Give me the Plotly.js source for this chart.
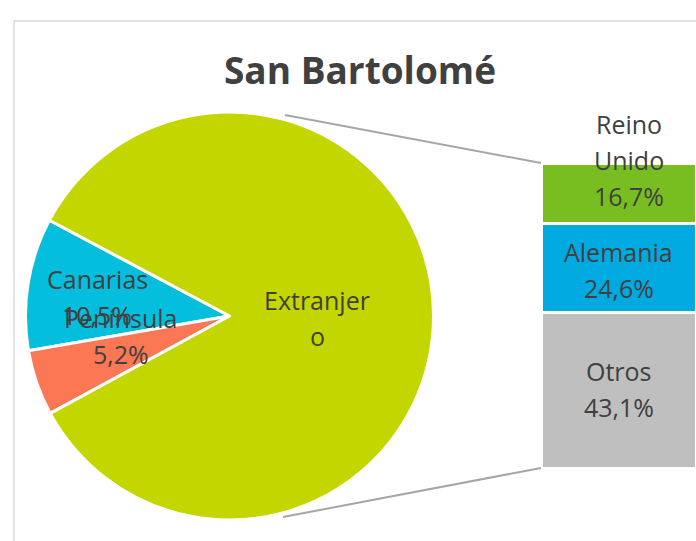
<!DOCTYPE html>
<html><head><meta charset="utf-8">
<script src="https://cdn.plot.ly/plotly-3.0.1.min.js"></script>
<style>html,body{margin:0;padding:0;background:#fff}#chart{width:696px;height:541px}</style>
</head><body><div id="chart"></div>
<script>
const titleText = "San Bartolomé";
const pieLabels = ["Canarias", "Península", "Extranjero"];
const pieValues = [10.5, 5.2, 84.3];
const pieColors = ["#04BEDE", "#FC7753", "#C4D600"];
const barLabels = ["Otros", "Alemania", "Reino Unido"];
const barValues = [43.1, 24.6, 16.7];
const barColors = ["#BFBFBF", "#00A9E0", "#78BE20"];

const W = 696, H = 541;
const px = x => x / W;
const py = y => 1 - y / H;
const pct = v => v.toFixed(1).replace('.', ',') + '%';
const txtColor = "#404040";
const FONT = "Open Sans";
const FS = 25;
const LINE = 36;

const barTotal = barValues.reduce((a, b) => a + b, 0);

const data = [{
  type: 'pie',
  labels: pieLabels,
  values: pieValues,
  sort: false,
  direction: 'counterclockwise',
  rotation: -99.8,
  marker: {colors: pieColors, line: {color: '#ffffff', width: 3}},
  textinfo: 'none',
  hoverinfo: 'label+percent',
  showlegend: false,
  domain: {x: [px(25.5), px(433.5)], y: [py(520), py(112)]}
}];

barLabels.forEach((lab, i) => {
  data.push({
    type: 'bar',
    x: [0],
    y: [barValues[i]],
    name: lab,
    width: 1,
    marker: {color: barColors[i], line: {color: '#ffffff', width: 3}},
    hoverinfo: 'name+y',
    showlegend: false,
    xaxis: 'x', yaxis: 'y'
  });
});

const annotations = [];
const baseFont = {family: FONT, size: FS, color: txtColor};

// Pie labels (Excel-style wrapped text)
const pieLabelLines = [
  [pieLabels[0], pct(pieValues[0])],
  [pieLabels[1], pct(pieValues[1])],
  ["Extranjer", "o"]
];
const pieLabelPos = [[97, 279], [121, 318], [317, 300]];
pieLabelLines.forEach((lines, i) => {
  lines.forEach((t, j) => annotations.push({
    x: px(pieLabelPos[i][0]), y: py(pieLabelPos[i][1] + j * LINE),
    xref: 'paper', yref: 'paper', text: t, showarrow: false,
    xanchor: 'center', yanchor: 'middle', font: baseFont
  }));
});

// Bar labels, anchored at the cumulative middle of each bar
const barLabelLines = [
  [barLabels[0], pct(barValues[0])],
  [barLabels[1], pct(barValues[1])],
  ["Reino", "Unido", pct(barValues[2])]
];
const barLabelShift = [[0, -1], [0, 2], [10, -33]];
let cum = 0;
barLabels.forEach((lab, i) => {
  const mid = cum + barValues[i] / 2;
  cum += barValues[i];
  const lines = barLabelLines[i];
  const n = lines.length;
  lines.forEach((t, j) => {
    annotations.push({
      x: 0, y: mid, xref: 'x', yref: 'y', text: t, showarrow: false,
      xanchor: 'center', yanchor: 'middle',
      xshift: barLabelShift[i][0],
      yshift: -barLabelShift[i][1] + ((n - 1) / 2 - j) * LINE,
      font: baseFont
    });
  });
});

const layout = {
  width: W, height: H,
  margin: {l: 0, r: 0, t: 0, b: 0},
  paper_bgcolor: '#ffffff',
  plot_bgcolor: 'rgba(0,0,0,0)',
  barmode: 'stack',
  bargap: 0,
  title: {
    text: '<b>' + titleText + '</b>',
    x: px(360), y: py(71), xanchor: 'center', yanchor: 'middle',
    font: {family: FONT, size: 37, color: '#404040'}
  },
  xaxis: {domain: [px(541), 1], range: [-0.5, 0.5], visible: false, fixedrange: true},
  yaxis: {domain: [py(468), py(163)], range: [0, barTotal], visible: false, fixedrange: true},
  annotations: annotations,
  shapes: [
    {type: 'rect', xref: 'paper', yref: 'paper', x0: px(14), x1: 1.05, y0: -0.05, y1: py(21),
     line: {color: '#D9D9D9', width: 1.5}, fillcolor: 'rgba(0,0,0,0)', layer: 'below'},
    {type: 'line', xref: 'paper', yref: 'paper', x0: px(285), y0: py(115), x1: px(541), y1: py(163),
     line: {color: '#A6A6A6', width: 2}},
    {type: 'line', xref: 'paper', yref: 'paper', x0: px(283), y0: py(517), x1: px(541), y1: py(468),
     line: {color: '#A6A6A6', width: 2}}
  ]
};

Plotly.newPlot('chart', data, layout, {displayModeBar: false, staticPlot: true});
</script>
</body></html>
